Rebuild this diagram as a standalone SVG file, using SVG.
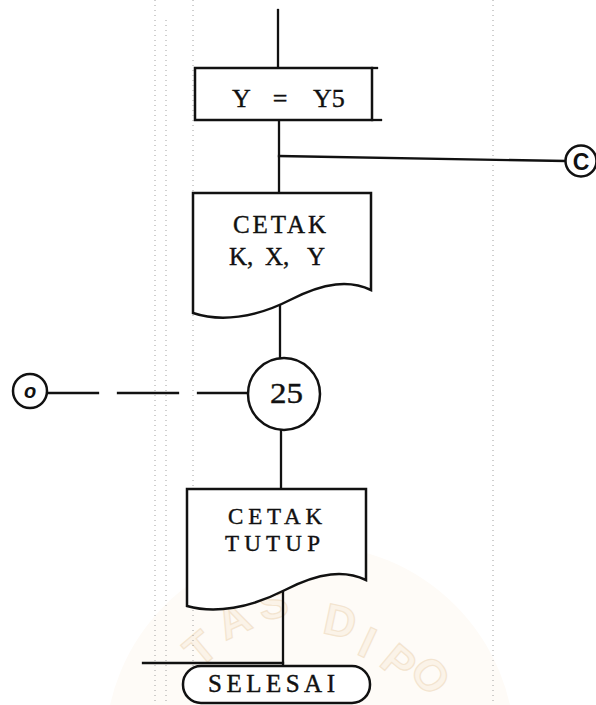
<svg xmlns="http://www.w3.org/2000/svg" width="596" height="705" viewBox="0 0 596 705">
<style>
.ln{stroke:#111;stroke-width:2.3;fill:none;stroke-linecap:square}
.shape{stroke:#111;stroke-width:2.5;fill:#fff}
.t{font-family:"Liberation Serif","DejaVu Serif",serif;fill:#111;stroke:#111;stroke-width:0.4;font-size:25px}
.guide{stroke:#a0a0a0;stroke-width:1;stroke-dasharray:1 4;fill:none}
.wm{font-family:"Liberation Sans","DejaVu Sans",sans-serif;font-weight:bold;font-size:44px;fill:#fbf3e8;stroke:#f3e4cf;stroke-width:1.2;text-anchor:middle}
</style>
<rect width="596" height="705" fill="#fff"/>
<g id="watermark">
<circle cx="310" cy="750" r="205" fill="#fefbf7"/>
<text class="wm" transform="translate(210,660) rotate(-40)">T</text>
<text class="wm" transform="translate(240,634) rotate(-25)">A</text>
<text class="wm" transform="translate(276,618) rotate(-11)">S</text>
<text class="wm" transform="translate(337,636) rotate(12)">D</text>
<text class="wm" transform="translate(361,656) rotate(25)">I</text>
<text class="wm" transform="translate(389,674) rotate(40)">P</text>
<text class="wm" transform="translate(418,684) rotate(55)">O</text>
</g>
<g id="guides">
<line class="guide" x1="155" y1="0" x2="155" y2="705"/>
<line class="guide" x1="166" y1="20" x2="166" y2="705" stroke-dasharray="1 9"/>
<line class="guide" x1="193" y1="0" x2="193" y2="705" stroke-dasharray="1 12"/>
<line class="guide" x1="493" y1="0" x2="493" y2="705"/>
</g>
<g id="connectors">
<line class="ln" x1="278" y1="10" x2="278" y2="68"/>
<line class="ln" x1="279" y1="120" x2="279" y2="193"/>
<line class="ln" x1="279" y1="156" x2="565" y2="161"/>
<line class="ln" x1="280" y1="300" x2="280" y2="358"/>
<line class="ln" x1="281" y1="430" x2="281" y2="489"/>
<line class="ln" x1="283" y1="590" x2="283" y2="666"/>
<line class="ln" x1="143" y1="663" x2="283" y2="663"/>
<line class="ln" x1="48" y1="393" x2="98" y2="393"/>
<line class="ln" x1="118" y1="393" x2="178" y2="393"/>
<line class="ln" x1="198" y1="393" x2="248" y2="393"/>
</g>
<g id="box-y5">
<rect class="shape" x="195" y="68" width="177" height="52"/>
<line class="ln" x1="372" y1="68" x2="377" y2="68"/>
<line class="ln" x1="372" y1="120" x2="381" y2="120"/>
<text class="t" x="232" y="107" style="font-size:26px">Y</text>
<text class="t" x="280" y="107" text-anchor="middle" style="font-size:26px">=</text>
<text class="t" x="313" y="107" style="font-size:26px">Y5</text>
</g>
<g id="connector-c">
<circle class="shape" cx="581" cy="161" r="15.5" stroke-width="3.2"/>
<text x="581" y="169.5" font-family="Liberation Sans, Arial, sans-serif" font-weight="bold" font-size="23" text-anchor="middle" fill="#111">C</text>
</g>
<g id="print-kxy">
<path class="shape" d="M193,193 H371 V290 C350,280 325,282 290,300 C255,318 220,322 193,313 Z"/>
<text class="t" x="233" y="233" textLength="93" lengthAdjust="spacing">CETAK</text>
<text class="t" x="229" y="265">K,</text>
<text class="t" x="265" y="265">X,</text>
<text class="t" x="307" y="265">Y</text>
</g>
<g id="connector-o">
<circle class="shape" cx="30" cy="391" r="17" stroke-width="3.2"/>
<text x="30" y="398" font-family="Liberation Sans, Arial, sans-serif" font-weight="bold" font-style="italic" font-size="20" text-anchor="middle" fill="#111">o</text>
</g>
<g id="node-25">
<circle class="shape" cx="284" cy="394" r="36"/>
<text class="t" x="270" y="403" textLength="33" lengthAdjust="spacingAndGlyphs" style="font-size:29px">25</text>
</g>
<g id="print-tutup">
<path class="shape" d="M187,489 H366 V580 C345,570 320,572 285,590 C250,608 215,614 187,606 Z"/>
<text class="t" x="228" y="524" textLength="94" lengthAdjust="spacing" style="font-size:23px">CETAK</text>
<text class="t" x="225" y="551" textLength="95" lengthAdjust="spacing" style="font-size:23px">TUTUP</text>
</g>
<g id="end">
<rect class="shape" x="183" y="666" width="187" height="37" rx="18" ry="18"/>
<text class="t" x="208" y="692" textLength="127" lengthAdjust="spacing">SELESAI</text>
</g>
</svg>
